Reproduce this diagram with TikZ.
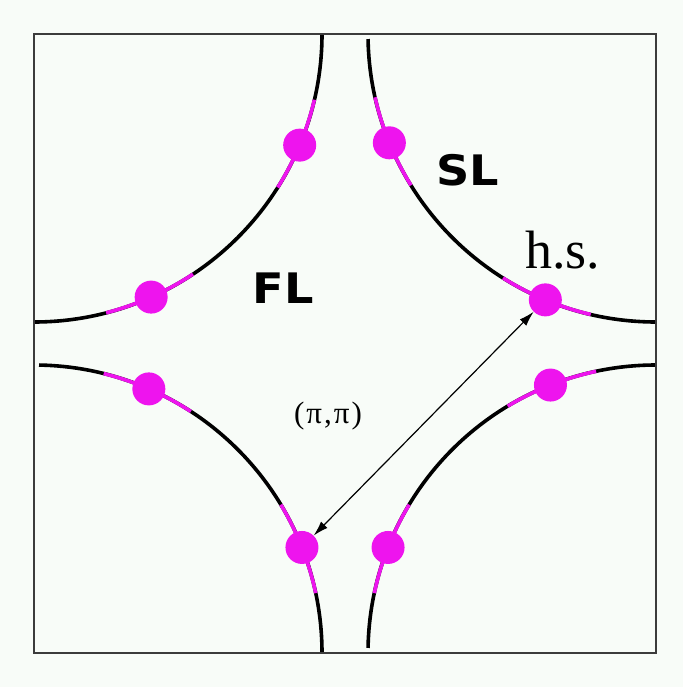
\documentclass[tikz,border=0pt]{standalone}
\usepackage{fontspec}
\setmainfont{Liberation Serif}
\newfontfamily\heavysans{DejaVu Sans}
\usetikzlibrary{arrows.meta}
\definecolor{bgc}{RGB}{248,252,248}
\definecolor{framec}{RGB}{60,60,60}
\definecolor{magc}{RGB}{238,20,238}
\tikzset{
  fs/.style={line width=3.6pt, black},
  magseg/.style={line width=3.6pt, magc},
  dot/.style={circle, fill=magc, draw=none, minimum size=33pt, inner sep=0pt},
  biglabel/.style={font=\heavysans\bfseries\fontsize{42}{42}\selectfont, inner sep=0pt, xscale=1.1},
  dblarrow/.style={line width=1.2pt},
}
\begin{document}
\begin{tikzpicture}[x=1pt,y=1pt]
\useasboundingbox (0,0) rectangle (683,-687);
\fill[bgc] (0,0) rectangle (683,-687);
% corners
\coordinate (cTL) at (34,-34);
\coordinate (cTR) at (656,-34);
\coordinate (cBL) at (34,-653);
\coordinate (cBR) at (656,-653);
\begin{scope}
\clip (34,-34) rectangle (656,-653);
% black arcs
\draw[fs] ([shift={(0:288pt)}]cTL) arc[start angle=0, end angle=-90, radius=288pt];
\draw[fs] ([shift={(181:288pt)}]cTR) arc[start angle=181, end angle=270, radius=288pt];
\draw[fs] ([shift={(89:288pt)}]cBL) arc[start angle=89, end angle=0, radius=288pt];
\draw[fs] ([shift={(90:288pt)}]cBR) arc[start angle=90, end angle=179, radius=288pt];
% magenta segments
\foreach \c/\a in {cTL/-22.7, cTL/-66, cTR/202.2, cTR/247.4, cBL/21.5, cBL/66.5, cBR/158.5, cBR/111.5}{
  \draw[magseg] ([shift={(\a-9.5:288pt)}]\c) arc[start angle=\a-9.5, end angle=\a+9.5, radius=288pt];
}
\end{scope}
% frame
\draw[framec, line width=1.5pt] (34,-34) rectangle (656,-653);
% dots
\node[dot] (tlA) at ([shift={(-22.7:288pt)}]cTL) {};
\node[dot] (tlB) at ([shift={(-66:288pt)}]cTL) {};
\node[dot] (trA) at ([shift={(202.2:288pt)}]cTR) {};
\node[dot] (trB) at ([shift={(247.4:288pt)}]cTR) {};
\node[dot] (blA) at ([shift={(66.5:288pt)}]cBL) {};
\node[dot] (blB) at ([shift={(21.5:288pt)}]cBL) {};
\node[dot] (brA) at ([shift={(111.5:288pt)}]cBR) {};
\node[dot] (brB) at ([shift={(158.5:288pt)}]cBR) {};
% arrow
\draw[dblarrow, {Latex[length=15pt,width=9pt]}-{Latex[length=15pt,width=9pt]}] (trB) -- (blB);
% labels
\node[biglabel] (sl) at (468,-170) {SL};
\node[biglabel] (fl) at (283,-288) {FL};
\node[anchor=base west, inner sep=0pt, font=\fontsize{54}{54}\selectfont] (hs) at (525,-268) {h.s.};
\node[inner sep=0pt, font=\fontsize{31}{31}\selectfont] (pp) at (328,-416) {(\kern2ptπ\kern2pt,\kern2ptπ\kern2pt)};
\end{tikzpicture}
\end{document}
